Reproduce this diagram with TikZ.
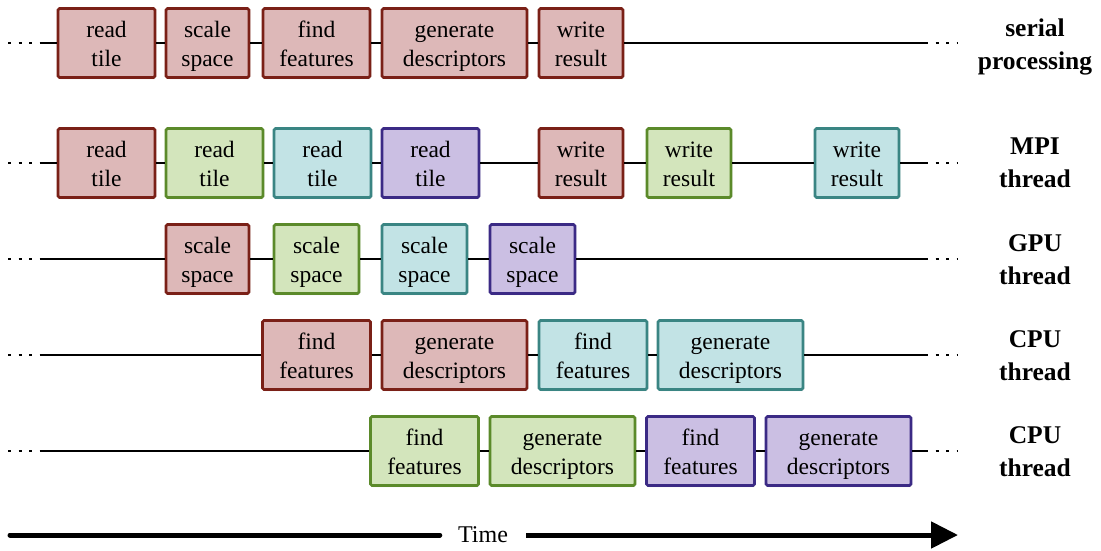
\documentclass[tikz,border=0pt]{standalone}
\usepackage{fontspec}
\setmainfont{Liberation Serif}
\usetikzlibrary{arrows.meta,shadows}
\definecolor{rf}{HTML}{DDB8B8}\definecolor{rd}{HTML}{7A2017}
\definecolor{gf}{HTML}{D3E5BC}\definecolor{gd}{HTML}{5B8A2A}
\definecolor{tf}{HTML}{C2E3E5}\definecolor{td}{HTML}{3A8583}
\definecolor{pf}{HTML}{CBBFE3}\definecolor{pd}{HTML}{3B2A85}
\newcommand{\twol}[2]{\rule{0pt}{26.5pt}#1\\\strut #2}
\newcommand{\twob}[2]{\rule{0pt}{29pt}#1\\\strut #2}
\begin{document}
\begin{tikzpicture}[x=1pt,y=-1pt,
  box/.style={draw, line width=2.8pt, rounded corners=1.5pt, minimum height=69pt, inner sep=0pt,
    align=center, font=\fontsize{23.5}{29}\selectfont,
    drop shadow={opacity=0.25,shadow xshift=1pt,shadow yshift=-1.5pt}},
  R/.style={box, fill=rf, draw=rd}, G/.style={box, fill=gf, draw=gd},
  T/.style={box, fill=tf, draw=td}, P/.style={box, fill=pf, draw=pd},
  ln/.style={line width=2.8pt},
  dots/.style={line width=2.8pt, dash pattern=on 3pt off 7.5pt},
  lab/.style={font=\fontsize{25.5}{33}\selectfont\bfseries, align=center},
  ]
\useasboundingbox (0,0) rectangle (1101,550);
% row 1
\coordinate (d1l) at (8,43); \coordinate (c1l) at (42,43);
\coordinate (c1r) at (925,43); \coordinate (d1r) at (958,43);
\node[R, minimum width=97] (a1) at (106.5,43) {\twol{read}{tile}};
\node[R, minimum width=83] (a2) at (207.5,43) {\twol{scale}{space}};
\node[R, minimum width=107] (a3) at (316.5,43) {\twol{find}{features}};
\node[R, minimum width=145] (a4) at (454.5,43) {\twol{generate}{descriptors}};
\node[R, minimum width=84] (a5) at (581,43) {\twol{write}{result}};
\draw[dots] (d1l) -- (c1l); \draw[dots] (c1r) -- (d1r);
\draw[ln] (c1l) -- (a1); \draw[ln] (a1) -- (a2); \draw[ln] (a2) -- (a3);
\draw[ln] (a3) -- (a4); \draw[ln] (a4) -- (a5); \draw[ln] (a5) -- (c1r);
\node[lab] (l1) at (1035,43) {\twob{serial}{processing}};
% row 2
\coordinate (d2l) at (8,163); \coordinate (c2l) at (42,163);
\coordinate (c2r) at (925,163); \coordinate (d2r) at (958,163);
\node[R, minimum width=97] (b1) at (106.5,163) {\twol{read}{tile}};
\node[G, minimum width=97] (b2) at (214.5,163) {\twol{read}{tile}};
\node[T, minimum width=97] (b3) at (322.5,163) {\twol{read}{tile}};
\node[P, minimum width=97] (b4) at (430.5,163) {\twol{read}{tile}};
\node[R, minimum width=84] (b5) at (581,163) {\twol{write}{result}};
\node[G, minimum width=84] (b6) at (689,163) {\twol{write}{result}};
\node[T, minimum width=84] (b7) at (857,163) {\twol{write}{result}};
\draw[dots] (d2l) -- (c2l); \draw[dots] (c2r) -- (d2r);
\draw[ln] (c2l) -- (b1); \draw[ln] (b1) -- (b2); \draw[ln] (b2) -- (b3);
\draw[ln] (b3) -- (b4); \draw[ln] (b4) -- (b5); \draw[ln] (b5) -- (b6);
\draw[ln] (b6) -- (b7); \draw[ln] (b7) -- (c2r);
\node[lab] (l2) at (1035,161) {\twob{MPI}{thread}};
% row 3
\coordinate (d3l) at (8,259); \coordinate (c3l) at (42,259);
\coordinate (c3r) at (925,259); \coordinate (d3r) at (958,259);
\node[R, minimum width=83] (e1) at (207.5,259) {\twol{scale}{space}};
\node[G, minimum width=85] (e2) at (316.5,259) {\twol{scale}{space}};
\node[T, minimum width=85] (e3) at (424.5,259) {\twol{scale}{space}};
\node[P, minimum width=85] (e4) at (532.5,259) {\twol{scale}{space}};
\draw[dots] (d3l) -- (c3l); \draw[dots] (c3r) -- (d3r);
\draw[ln] (c3l) -- (e1); \draw[ln] (e1) -- (e2); \draw[ln] (e2) -- (e3);
\draw[ln] (e3) -- (e4); \draw[ln] (e4) -- (c3r);
\node[lab] (l3) at (1035,258) {\twob{GPU}{thread}};
% row 4
\coordinate (d4l) at (8,355); \coordinate (c4l) at (42,355);
\coordinate (c4r) at (925,355); \coordinate (d4r) at (958,355);
\node[R, minimum width=108] (f1) at (316.5,355) {\twol{find}{features}};
\node[R, minimum width=145] (f2) at (454.5,355) {\twol{generate}{descriptors}};
\node[T, minimum width=108] (f3) at (593,355) {\twol{find}{features}};
\node[T, minimum width=145] (f4) at (730.5,355) {\twol{generate}{descriptors}};
\draw[dots] (d4l) -- (c4l); \draw[dots] (c4r) -- (d4r);
\draw[ln] (c4l) -- (f1); \draw[ln] (f1) -- (f2); \draw[ln] (f2) -- (f3);
\draw[ln] (f3) -- (f4); \draw[ln] (f4) -- (c4r);
\node[lab] (l4) at (1035,354) {\twob{CPU}{thread}};
% row 5
\coordinate (d5l) at (8,451); \coordinate (c5l) at (42,451);
\coordinate (c5r) at (925,451); \coordinate (d5r) at (958,451);
\node[G, minimum width=108] (g1) at (424.5,451) {\twol{find}{features}};
\node[G, minimum width=145] (g2) at (562.5,451) {\twol{generate}{descriptors}};
\node[P, minimum width=108] (g3) at (700.5,451) {\twol{find}{features}};
\node[P, minimum width=145] (g4) at (838.5,451) {\twol{generate}{descriptors}};
\draw[dots] (d5l) -- (c5l); \draw[dots] (c5r) -- (d5r);
\draw[ln] (c5l) -- (g1); \draw[ln] (g1) -- (g2); \draw[ln] (g2) -- (g3);
\draw[ln] (g3) -- (g4); \draw[ln] (g4) -- (c5r);
\node[lab] (l5) at (1035,450) {\twob{CPU}{thread}};
% time arrow
\coordinate (t0) at (10,535); \coordinate (t1) at (958,535);
\node[font=\fontsize{24}{29}\selectfont, inner sep=0pt, minimum width=86pt] (time) at (483,535) {Time};
\draw[line width=5pt, line cap=round] (t0) -- (time);
\draw[line width=5pt, -{Triangle[length=27pt,width=26pt]}] (time) -- (t1);
\end{tikzpicture}
\end{document}
